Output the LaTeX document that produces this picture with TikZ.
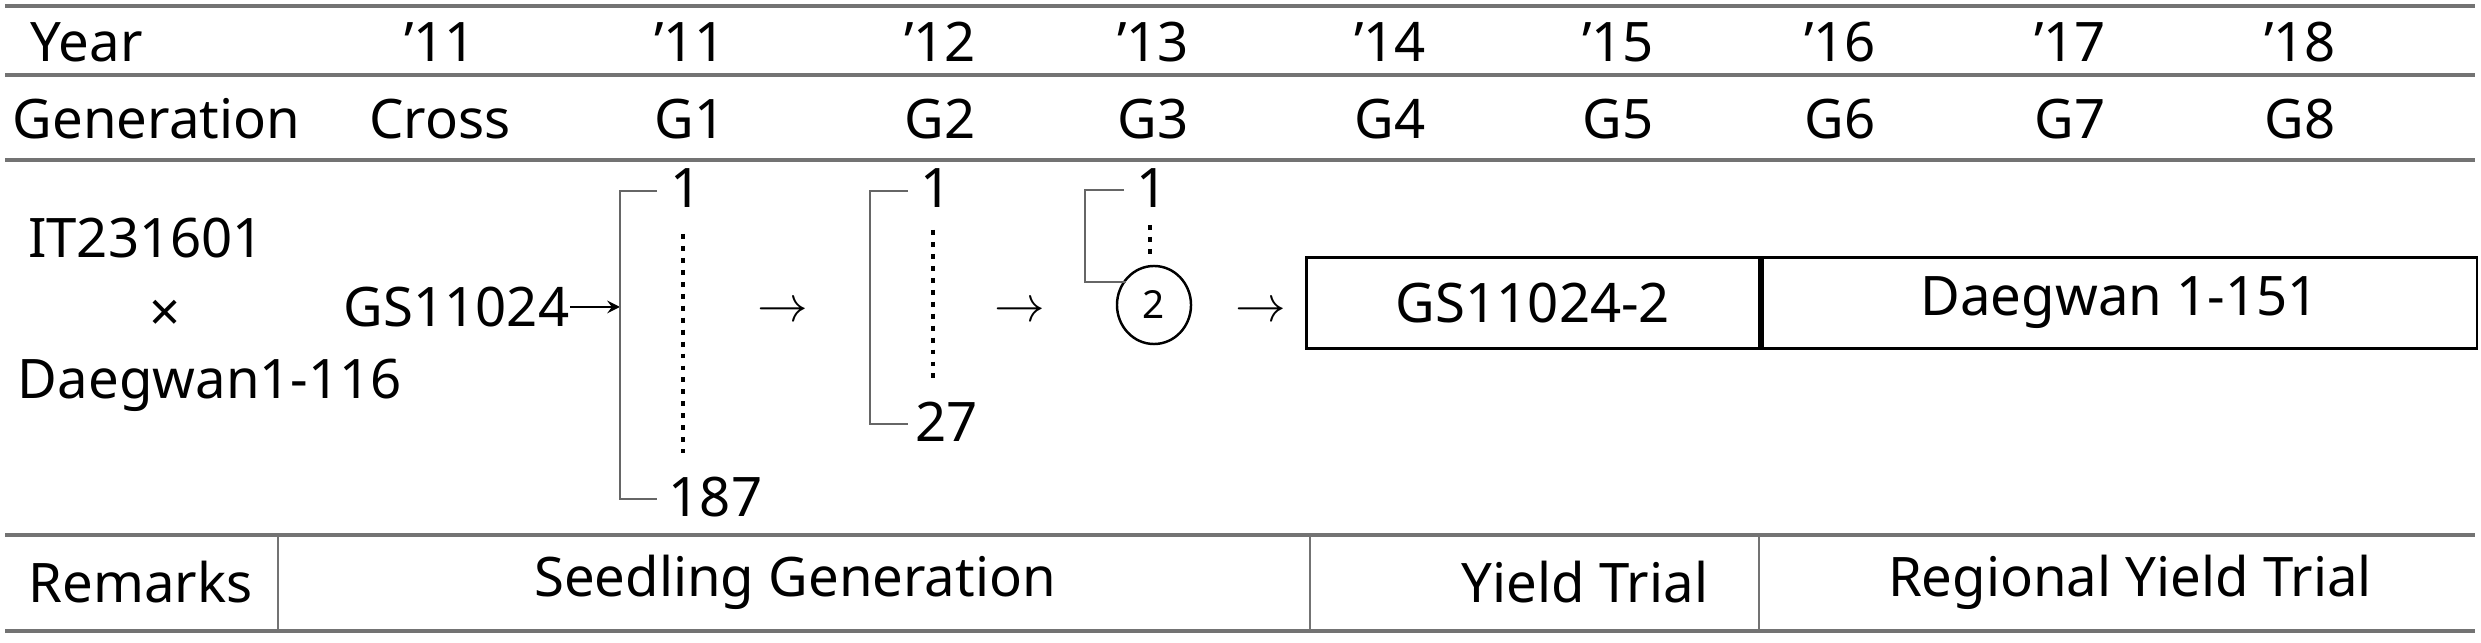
\documentclass[tikz,border=0pt]{standalone}
\usepackage{fontspec}
\setmainfont{Noto Sans}
\usetikzlibrary{shapes.geometric}
\begin{document}
\begin{tikzpicture}[x=0.01cm,y=-0.01cm,
  t/.style={inner sep=0pt,font=\fontsize{15.5}{17}\selectfont},
  rule/.style={draw=black!55,line width=1pt},
  br/.style={draw=black!60,line width=0.8pt},
  dt/.style={dotted,line width=1.4pt},
  ar/.style={->,>=stealth,line width=0.6pt}]
\useasboundingbox (0,0) rectangle (2481,643);
\draw[rule] (5,6)--(2475,6) (5,75)--(2475,75) (5,160)--(2475,160) (5,535)--(2475,535) (5,631)--(2475,631);
\draw[rule,line width=0.6pt] (278,535)--(278,631) (1310,535)--(1310,631) (1759,535)--(1759,631);
% header
\foreach \x/\a/\b [count=\i] in {440/'11/Cross,690/'11/G1,940/'12/G2,1153/'13/G3,1390/'14/G4,1618/'15/G5,1840/'16/G6,2070/'17/G7,2300/'18/G8}{
  \node[t] (y\i) at (\x,42) {\a};
  \node[t] (g\i) at (\x,119) {\b};}
\node[t,anchor=west] (year) at (30,42) {Year};
\node[t,anchor=west] (gen) at (12,119) {Generation};
% parents
\node[t] (p1) at (146,238) {IT231601};
\node[t] (px) at (165,316) {×};
\node[t] (p2) at (210,385) {Daegwan1-116};
\node[t,anchor=east] (cr) at (570,307) {GS11024};
% G1
\coordinate (a1) at (620,191); \coordinate (a2) at (620,499);
\draw[ar] (cr.east) -- (620,307);
\draw[br] (657,191)--(a1)--(a2)--(657,499);
\node[t,anchor=west] (n1) at (670,188) {1};
\node[t,anchor=west] (n187) at (668,497) {187};
\draw[dt] (683,234)--(683,453);
\node[t] (ar1) at (783,312) {$\rightarrow$};
% G2
\draw[br] (908,191)--(870,191)--(870,424)--(908,424);
\node[t,anchor=west] (m1) at (920,188) {1};
\node[t,anchor=west] (m27) at (915,422) {27};
\draw[dt] (933,230)--(933,385);
\node[t] (ar2) at (1020,312) {$\rightarrow$};
% G3
\node[draw,ellipse,minimum width=0.74cm,minimum height=0.78cm,inner sep=0pt,line width=0.7pt,font=\fontsize{11}{12}\selectfont] (c2) at (1154,305) {2};
\draw[br] (1124,190)--(1085,190)--(1085,282)--(1126,282);
\node[t] (k1) at (1152,188) {1};
\draw[dt] (1150,225)--(1150,258);
\node[t] (ar3) at (1261,312) {$\rightarrow$};
% boxes
\node[t,draw,line width=0.8pt,minimum width=4.53cm,minimum height=0.91cm,anchor=west] (b1) at (1305,303) {GS11024-2};
\node[t,draw,line width=0.8pt,minimum width=7.14cm,minimum height=0.91cm,anchor=west] (b2) at (b1.east) {Daegwan 1-151};
% remarks
\node[t,anchor=west] (r0) at (28,582) {Remarks};
\node[t] (r1) at (795,582) {Seedling Generation};
\node[t] (r2) at (1585,582) {Yield Trial};
\node[t] (r3) at (2130,582) {Regional Yield Trial};
\end{tikzpicture}
\end{document}
